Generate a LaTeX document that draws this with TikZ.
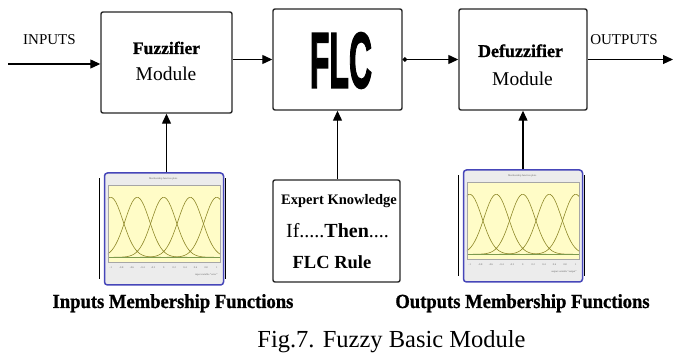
\documentclass[tikz,border=0pt]{standalone}
\usepackage{fontspec}
\setmainfont{Liberation Serif}
\newfontfamily\flcfont[BoldFeatures={FakeBold=2.5}]{Liberation Sans}
\newfontfamily\heavyfont[BoldFeatures={FakeBold=1}]{Liberation Serif}
\usepackage{graphicx}
\usepackage{tikz}
\usetikzlibrary{arrows.meta,calc}

\tikzset{
	block/.style={draw=black!85, line width=1.4pt, rounded corners=2pt, fill=white, inner sep=0pt},
	link/.style={line width=1.2pt, -{Triangle[length=10pt,width=9pt]}},
	mfframe/.style={draw=blue!45!gray, line width=1.5pt, rounded corners=3pt, fill=gray!15, minimum width=119pt, minimum height=112pt, inner sep=0pt},
	tiny/.style={font=\fontsize{2.6}{3}\selectfont, text=black!60, inner sep=0pt},
	mflabel/.style={anchor=base, font=\fontsize{20}{20}\selectfont\heavyfont\bfseries},
}

\begin{document}
\begin{tikzpicture}[x=1pt,y=-1pt]
	\useasboundingbox (0,0) rectangle (673,358);
	
	% main blocks
	\node[block, minimum width=131pt, minimum height=101pt] (fuzz) at (166.5,62.5) {};
	\node[block, minimum width=129pt, minimum height=101pt] (flc) at (337.5,59.5) {};
	\node[block, minimum width=128pt, minimum height=101pt] (defuzz) at (523,59.5) {};
	\node[block, minimum width=127pt, minimum height=102pt] (rules) at (336.5,231) {};
	
	% block texts
	\node[anchor=base, font=\fontsize{17.5}{18}\selectfont\heavyfont\bfseries] (fuzzA) at (166.5,54) {Fuzzifier};
	\node[anchor=base, font=\fontsize{19.5}{20}\selectfont] (fuzzB) at (166,81) {Module};
	\node (flcA) at (341,60.5) {\resizebox{62pt}{55pt}{\flcfont\bfseries FLC}};
	\node[anchor=base, font=\fontsize{18}{18}\selectfont\heavyfont\bfseries] (defuzzA) at (520.5,57) {Defuzzifier};
	\node[anchor=base, font=\fontsize{19.5}{20}\selectfont] (defuzzB) at (522.5,86) {Module};
	\node[anchor=base, font=\fontsize{14.5}{15}\selectfont\bfseries] (rulesA) at (339,205) {Expert Knowledge};
	\node[anchor=base, font=\fontsize{20}{20}\selectfont] (rulesB) at (337.5,238) {If.....\textbf{Then}....};
	\node[anchor=base, font=\fontsize{18.5}{19}\selectfont\bfseries] (rulesC) at (332,269) {FLC Rule};
	
	% membership plots
	\node[mfframe] (inmf) at (164,229) {};
	\node[mfframe] (outmf) at (523,226) {};
	\foreach \m/\lab in {inmf/input variable ``error'', outmf/output variable ``output''}{
		\begin{scope}[shift={(\m.north west)}]
			\node[tiny] at (59.5,7) {Membership function plots};
			\fill[yellow!22] (4,13) rectangle (116,90);
			\begin{scope}
				\clip (4,13) rectangle (116,90);
				\foreach \c in {0,...,4}
					\draw[olive!70!gray, line width=0.6pt, domain=-50:50, samples=50, variable=\t] plot ({7+26.5*\c+\t}, {85-60*exp(-\t*\t/300)});
			\end{scope}
			\draw[olive!50!green!60!gray, line width=0.6pt] (4,85) -- (116,85);
			\draw[gray!70, line width=0.4pt] (4,13) rectangle (116,90);
			\foreach \k [count=\i from 0] in {-1,-0.8,-0.6,-0.4,-0.2,0,0.2,0.4,0.6,0.8,1}
				\node[tiny] at (7+10.6*\i,95) {\k};
			\node[tiny, anchor=east] at (114,103) {\lab};
			\draw[line width=1.2pt] (-4,6) -- (-4,107);
			\draw[line width=1.2pt] (122,6) -- (122,107);
		\end{scope}
	}
	
	% connectors
	\coordinate (inp) at (8,64);
	\coordinate (outp) at (673,59.5);
	\draw[link] (inp) -- (inp -| fuzz.west);
	\draw[link] (fuzz.east |- flc.west) -- (flc.west);
	\draw[line width=1.2pt, {Circle[length=4.5pt]}-{Triangle[length=10pt,width=9pt]}] (flc.east) -- (defuzz.west);
	\draw[link] (defuzz.east) -- (outp);
	\draw[link] (fuzz.south |- inmf.north) -- (fuzz.south);
	\draw[link] (flc.south |- rules.north) -- (flc.south);
	\draw[link] (defuzz.south |- outmf.north) -- (defuzz.south);
	
	% labels
	\node[anchor=base, font=\fontsize{15}{15}\selectfont] (inlab) at (49.5,45) {INPUTS};
	\node[anchor=base, font=\fontsize{15}{15}\selectfont] (outlab) at (624,45) {OUTPUTS};
	\node[mflabel] (inmflab) at (173,308) {\scalebox{0.93}[1]{Inputs Membership Functions}};
	\node[mflabel] (outmflab) at (522.5,308) {\scalebox{0.93}[1]{Outputs Membership Functions}};
	\node[anchor=base, font=\fontsize{24.5}{25}\selectfont] (caption) at (391.5,348) {Fig.7. Fuzzy Basic Module};
\end{tikzpicture}
\end{document}
